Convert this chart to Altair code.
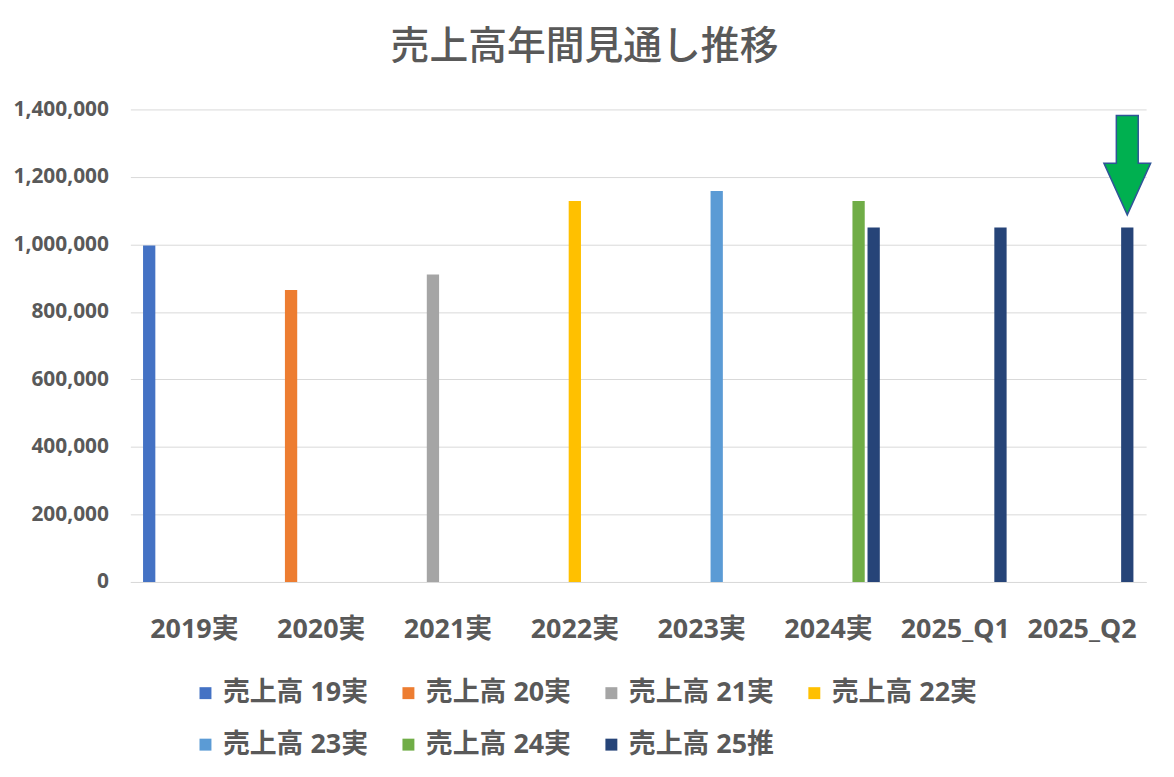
import altair as alt
import pandas as pd

categories = ["2019実", "2020実", "2021実", "2022実", "2023実", "2024実", "2025_Q1", "2025_Q2"]
series = ["売上高 19実", "売上高 20実", "売上高 21実", "売上高 22実",
          "売上高 23実", "売上高 24実", "売上高 25推"]
colors = ["#4472C4", "#ED7D31", "#A5A5A5", "#FFC000", "#5B9BD5", "#70AD47", "#264478"]

v19 = [997000, None, None, None, None, None, None, None]
v20 = [None, 865000, None, None, None, None, None, None]
v21 = [None, None, 911000, None, None, None, None, None]
v22 = [None, None, None, 1129000, None, None, None, None]
v23 = [None, None, None, None, 1158000, None, None, None]
v24 = [None, None, None, None, None, 1129000, None, None]
v25 = [None, None, None, None, None, 1050000, 1050000, 1050000]

# annotation arrow (pointing at the 2025_Q2 forecast bar)
arrow_category = ["2025_Q2"]
arrow_series = ["売上高 25推"]
arrow_value = [1235000]

rows = []
for s, vals in zip(series, [v19, v20, v21, v22, v23, v24, v25]):
    for c, v in zip(categories, vals):
        if v is not None:
            rows.append({"category": c, "series": s, "value": v})
df = pd.DataFrame(rows)
arrow_df = pd.DataFrame({"category": arrow_category, "series": arrow_series, "value": arrow_value})

FONT = "Noto Sans, Noto Sans CJK JP"
TXT = "#595959"

x_enc = alt.X("category:N", sort=categories, title=None,
              scale=alt.Scale(domain=categories, paddingInner=0.19, paddingOuter=0.1),
              axis=alt.Axis(labelAngle=0, labelFontSize=27, labelFont=FONT, labelFontWeight="bold",
                            labelColor=TXT, ticks=False, tickSize=0, domain=True, domainColor="#d9d9d9",
                            labelPadding=35, grid=False))
xoff_enc = alt.XOffset("series:N", sort=series,
                       scale=alt.Scale(domain=series, paddingInner=0.185, paddingOuter=0))
y_enc = alt.Y("value:Q", title=None,
              scale=alt.Scale(domain=[0, 1400000], nice=False),
              axis=alt.Axis(values=[0, 200000, 400000, 600000, 800000, 1000000, 1200000, 1400000],
                            format=",d", labelFontSize=21, labelFont=FONT, labelFontWeight="bold",
                            labelColor=TXT, ticks=False, tickSize=0, domain=False, labelPadding=22,
                            gridColor="#d9d9d9", gridWidth=1))

bars = alt.Chart(df).mark_bar().encode(
    x=x_enc,
    xOffset=xoff_enc,
    y=y_enc,
    color=alt.Color("series:N", sort=series,
                    scale=alt.Scale(domain=series, range=colors),
                    legend=alt.Legend(title=None, orient="none", legendX=62, legendY=573,
                                      direction="horizontal", columns=4,
                                      labelFontSize=27, labelFont=FONT, labelFontWeight="bold",
                                      labelColor=TXT, symbolType="square", symbolSize=144,
                                      symbolStrokeWidth=0, labelOffset=4,
                                      columnPadding=27, rowPadding=24, padding=0)),
)

arrow_path = "M -0.22 -1 L 0.22 -1 L 0.22 -0.04 L 0.47 -0.04 L 0 1 L -0.47 -0.04 L -0.22 -0.04 Z"
arrow = alt.Chart(arrow_df).mark_point(
    shape=arrow_path, size=10000, filled=True, fill="#00B050", stroke="#2F5597",
    strokeWidth=1.5, opacity=1
).encode(
    x=alt.X("category:N", sort=categories),
    xOffset=alt.XOffset("series:N", sort=series),
    y=alt.Y("value:Q"),
)

chart = alt.layer(bars, arrow).properties(
    width=1021,
    height=475,
    title=alt.TitleParams("売上高年間見通し推移", fontSize=39, font="Noto Sans CJK JP",
                          fontWeight=500, color=TXT, anchor="middle", frame="group",
                          dx=-54, offset=1, baseline="alphabetic"),
    autosize=alt.AutoSizeParams(type="none"),
    padding={"left": 123, "top": 100, "right": 20, "bottom": 180},
).configure(background="white").configure_view(strokeWidth=0, stroke="transparent")

chart.save("out.html", embed_options={"renderer": "svg", "actions": False})
